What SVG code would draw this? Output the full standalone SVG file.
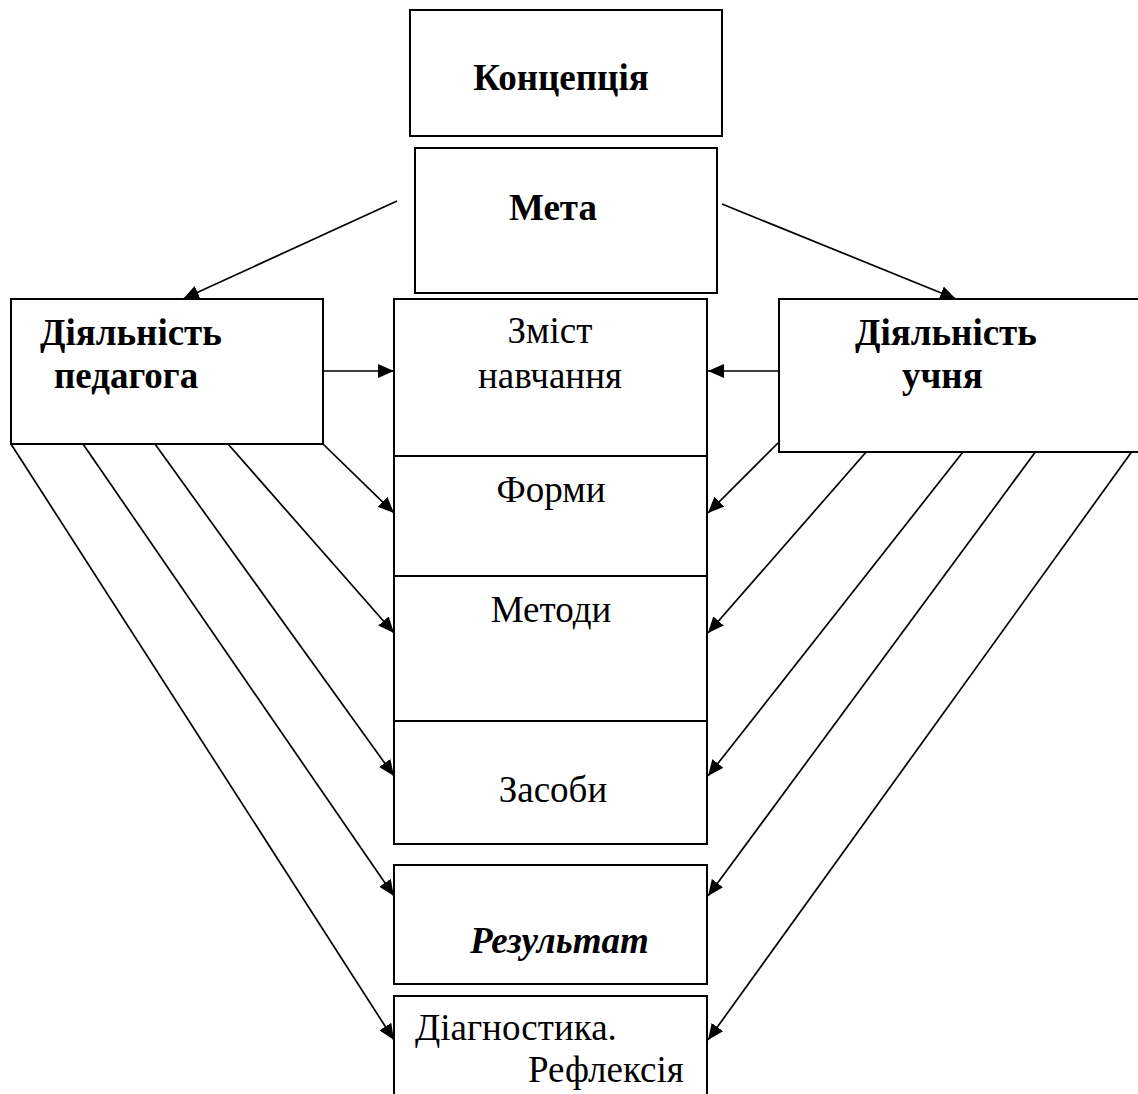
<svg xmlns="http://www.w3.org/2000/svg" width="1138" height="1094" viewBox="0 0 1138 1094">
<defs>
<marker id="ah" markerUnits="userSpaceOnUse" markerWidth="16" markerHeight="14" refX="16" refY="7" orient="auto">
<path d="M0,0 L16,7 L0,14 z" fill="#000"/>
</marker>
<style>
.box{fill:#fff;stroke:#000;stroke-width:2}
.sep{stroke:#000;stroke-width:2}
.t{font-family:"Liberation Serif","Times New Roman",serif;font-size:37px;fill:#000}
.b{font-weight:bold}
.bi{font-weight:bold;font-style:italic}
.c{text-anchor:middle}
.ar{stroke:#000;stroke-width:1.7;fill:none;marker-end:url(#ah)}
</style>
</defs>
<rect width="1138" height="1094" fill="#fff"/>
<g id="connectors">
<line class="ar" x1="397" y1="201" x2="183" y2="299"/>
<line class="ar" x1="722" y1="204" x2="956" y2="299"/>
<line class="ar" x1="323" y1="371" x2="394" y2="371"/>
<line class="ar" x1="779" y1="371" x2="708" y2="371"/>
<line class="ar" x1="323" y1="444" x2="394" y2="513"/>
<line class="ar" x1="228" y1="444" x2="394" y2="633"/>
<line class="ar" x1="155" y1="444" x2="394" y2="776"/>
<line class="ar" x1="83" y1="444" x2="394" y2="896"/>
<line class="ar" x1="11" y1="444" x2="394" y2="1040"/>
<line class="ar" x1="778" y1="443" x2="708" y2="513"/>
<line class="ar" x1="874" y1="443" x2="708" y2="633"/>
<line class="ar" x1="970" y1="443" x2="708" y2="776"/>
<line class="ar" x1="1042" y1="443" x2="708" y2="896"/>
<line class="ar" x1="1138" y1="443" x2="708" y2="1040"/>
</g>
<g id="koncepcia">
<rect class="box" x="410" y="10" width="312" height="126"/>
<text class="t b c" x="561" y="90">Концепція</text>
</g>
<g id="meta">
<rect class="box" x="415" y="148" width="302" height="145"/>
<text class="t b c" x="553" y="220">Мета</text>
</g>
<g id="pedagog">
<rect class="box" x="11" y="299" width="312" height="145"/>
<text class="t b" x="40" y="345">Діяльність</text>
<text class="t b" x="54" y="388">педагога</text>
</g>
<g id="uchen">
<rect class="box" x="779" y="299" width="360" height="153"/>
<text class="t b" x="855" y="345">Діяльність</text>
<text class="t b" x="902" y="388">учня</text>
</g>
<g id="column">
<rect class="box" x="394" y="299" width="313" height="545"/>
<line class="sep" x1="394" y1="456" x2="707" y2="456"/>
<line class="sep" x1="394" y1="576" x2="707" y2="576"/>
<line class="sep" x1="394" y1="721" x2="707" y2="721"/>
</g>
<g id="zmist">
<text class="t c" x="550" y="343">Зміст</text>
<text class="t c" x="550" y="388">навчання</text>
</g>
<g id="formy">
<text class="t c" x="551" y="502">Форми</text>
</g>
<g id="metody">
<text class="t c" x="551" y="622">Методи</text>
</g>
<g id="zasoby">
<text class="t c" x="553" y="802">Засоби</text>
</g>
<g id="rezultat">
<rect class="box" x="394" y="865" width="313" height="119"/>
<text class="t bi" x="470" y="953">Результат</text>
</g>
<g id="diagnostyka">
<rect class="box" x="394" y="996" width="313" height="110"/>
<text class="t" x="415" y="1040">Діагностика.</text>
<text class="t" x="528" y="1082">Рефлексія</text>
</g>
</svg>
